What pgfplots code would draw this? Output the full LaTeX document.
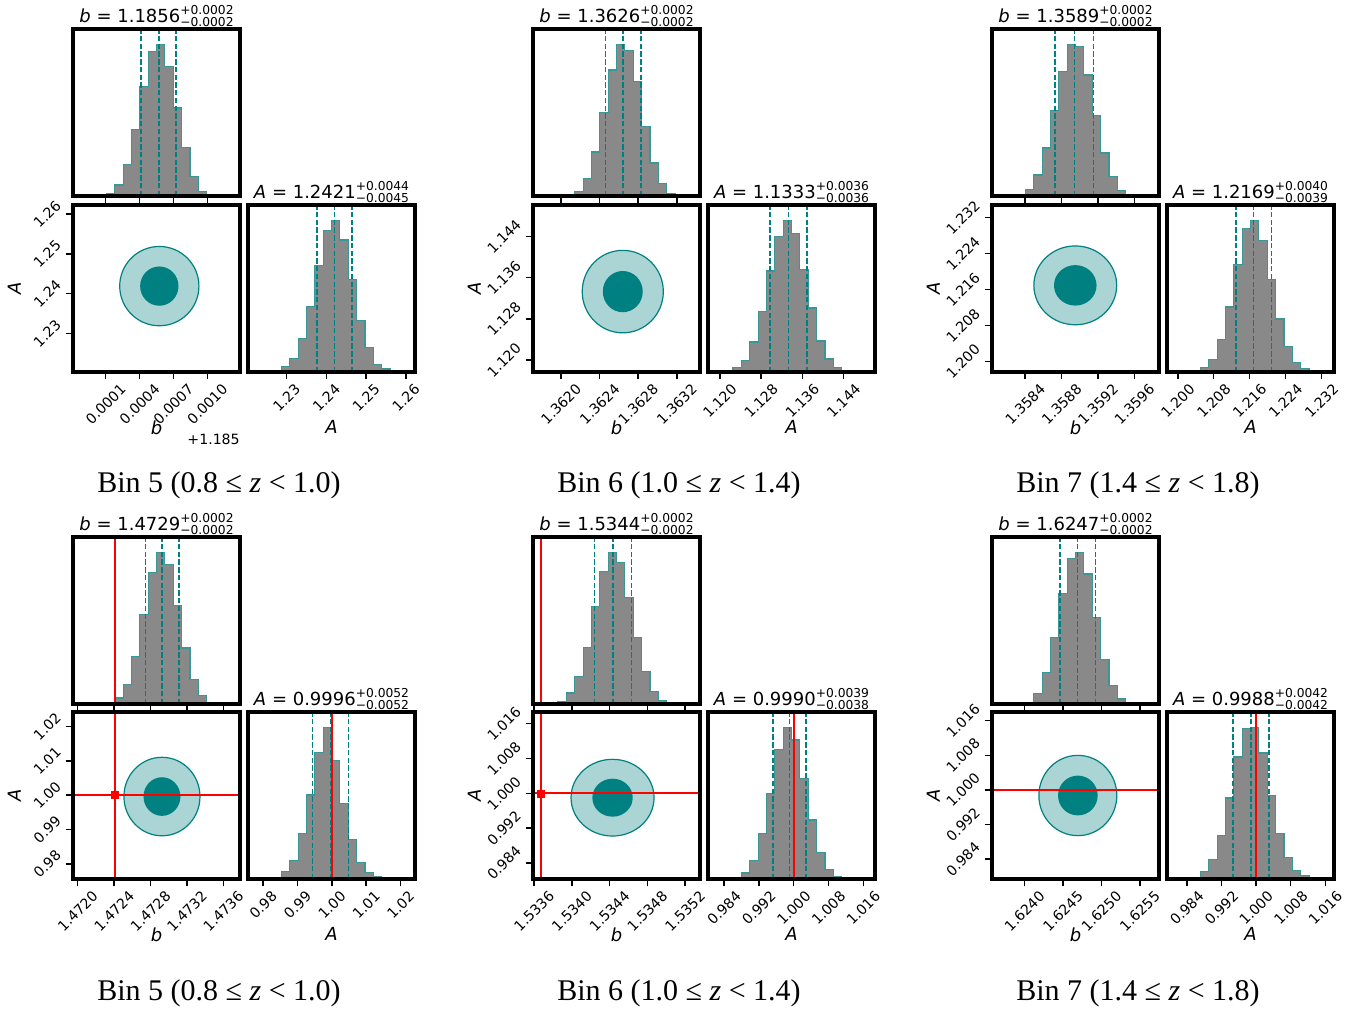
\documentclass[border=0pt]{standalone}
\usepackage{pgfplots}
\pgfplotsset{compat=1.18}
\usetikzlibrary{calc}
\usepackage{graphicx}
\usepackage{fontspec}
\setmainfont{DejaVu Sans}
\newfontfamily\capfont{Liberation Serif}

\definecolor{histgray}{RGB}{137,137,137}
\definecolor{histedge}{RGB}{60,150,150}

\newcommand\tickfont{\fontsize{10.6pt}{12pt}\selectfont}
\newcommand\labfont{\fontsize{13.5pt}{16pt}\selectfont\itshape}
\newcommand\titfont{\fontsize{13.5pt}{16pt}\selectfont}
\newcommand\supfont{\fontsize{9.2pt}{10pt}\selectfont}
% parameter = median with upper/lower errors
\newcommand\res[4]{{\itshape #1} = #2\rlap{\raisebox{5.8pt}{\supfont +#3}}\raisebox{-3pt}{\supfont −#4}}
\newcommand\rb[1]{\rotatebox{45}{#1}}
% 1 and 2 sigma contours: centre (b,A), inner radii, outer radii
\newcommand\blob[6]{%
  \filldraw[fill=teal!33, draw=teal, line width=0.9pt] let \p1=(axis direction cs:#5,#6) in (axis cs:#1,#2) ellipse [x radius=\x1, y radius=\y1];
  \fill[teal] let \p1=(axis direction cs:#3,#4) in (axis cs:#1,#2) ellipse [x radius=\x1, y radius=\y1];
}
\newcommand\bincap[2]{\node[anchor=base, font=\capfont\fontsize{22.5pt}{26pt}\selectfont] at (#1) {#2};}

\pgfplotsset{
  panel/.style={
    scale only axis, width=125.25pt, height=125.25pt, anchor=north west,
    axis on top, clip mode=individual, scaled ticks=false,
    axis line style={line width=2.4pt, line cap=rect},
    tick align=outside, xtick pos=left, ytick pos=left,
    major tick length=5.5pt,
    every tick/.style={black, line width=1.1pt},
    tick label style={font=\tickfont},
    xticklabel style={anchor=north, inner sep=0pt, yshift=-2.5pt},
    yticklabel style={anchor=east, inner sep=0pt, xshift=-2.5pt},
    every axis x label/.style={at={(axis description cs:0.5,-0.29)}, anchor=north, inner sep=0pt, font=\labfont},
    every axis y label/.style={at={(axis description cs:-0.31,0.5)}, rotate=90, anchor=south, inner sep=0pt, font=\labfont},
    every axis title/.style={at={(axis description cs:0.5,1)}, anchor=south, inner sep=0pt, yshift=1.7pt, font=\titfont},
  },
  hist/.style={panel, ymin=0, ymax=1.1, ytick=\empty},
  histo/.style={const plot, fill=histgray, draw=histedge, line width=0.9pt},
  qline/.style={color=teal, line width=1.2pt, dash pattern=on 4pt off 1.8pt},
  truth/.style={color=red, line width=1.5pt},
}

\begin{document}
\begin{tikzpicture}
\useasboundingbox (0,0) rectangle (1020pt,-757.5pt);

% ================= Bin 5 (upper) : b offset from 1.185 =================
\begin{axis}[hist, at={(54.75pt,-21.75pt)}, xmin=-0.000190, xmax=0.001290,
  xtick={0.0001,0.0004,0.0007,0.0010}, xticklabels={},
  title={\res{b}{1.1856}{0.0002}{0.0002}}]
\addplot[histo] table[row sep=\\]{x y\\
0.000032 0.005\\ 0.000106 0.013\\ 0.000180 0.073\\ 0.000254 0.209\\ 0.000328 0.440\\
0.000402 0.720\\ 0.000476 0.950\\ 0.000550 1.000\\ 0.000624 0.855\\ 0.000698 0.580\\
0.000772 0.318\\ 0.000846 0.130\\ 0.000920 0.031\\ 0.000994 0.004\\ 0.001068 0.004\\} \closedcycle;
\addplot[qline] coordinates {(0.000412,0) (0.000412,1.1)};
\addplot[qline] coordinates {(0.000572,0) (0.000572,1.1)};
\addplot[qline] coordinates {(0.000725,0) (0.000725,1.1)};
\end{axis}
\begin{axis}[panel, at={(54.75pt,-153.75pt)}, xmin=-0.000190, xmax=0.001290, ymin=1.2203, ymax=1.2623,
  xtick={0.0001,0.0004,0.0007,0.0010}, xticklabels={\rb{0.0001},\rb{0.0004},\rb{0.0007},\rb{0.0010}},
  ytick={1.23,1.24,1.25,1.26}, yticklabels={\rb{1.23},\rb{1.24},\rb{1.25},\rb{1.26}},
  xlabel={b}, ylabel={A}]
\blob{0.000575}{1.2419}{0.000170}{0.00494}{0.000351}{0.00997}
\node[anchor=north east, font=\tickfont, inner sep=0pt] at (rel axis cs:1,-0.37) {+1.185};
\end{axis}
\begin{axis}[hist, at={(186pt,-153.75pt)}, xmin=1.2203, xmax=1.2623,
  xtick={1.23,1.24,1.25,1.26}, xticklabels={\rb{1.23},\rb{1.24},\rb{1.25},\rb{1.26}},
  xlabel={A}, title={\res{A}{1.2421}{0.0044}{0.0045}}]
\addplot[histo] table[row sep=\\]{x y\\
1.2287 0.035\\ 1.2308 0.090\\ 1.2329 0.220\\ 1.2350 0.434\\ 1.2371 0.700\\ 1.2392 0.930\\
1.2413 1.000\\ 1.2434 0.870\\ 1.2455 0.607\\ 1.2476 0.340\\ 1.2497 0.160\\ 1.2518 0.052\\
1.2539 0.020\\ 1.2560 0.020\\} \closedcycle;
\addplot[qline] coordinates {(1.2376,0) (1.2376,1.1)};
\addplot[qline] coordinates {(1.2421,0) (1.2421,1.1)};
\addplot[qline] coordinates {(1.2465,0) (1.2465,1.1)};
\end{axis}

% ================= Bin 6 (upper) : b offset from 1.362 =================
\begin{axis}[hist, at={(399.75pt,-21.75pt)}, xmin=-0.000290, xmax=0.001440,
  xtick={0,0.0004,0.0008,0.0012}, xticklabels={},
  title={\res{b}{1.3626}{0.0002}{0.0002}}]
\addplot[histo] table[row sep=\\]{x y\\
0.0000560 0.009\\ 0.0001425 0.031\\ 0.0002290 0.116\\ 0.0003155 0.290\\ 0.0004020 0.550\\
0.0004885 0.830\\ 0.0005750 1.000\\ 0.0006615 0.960\\ 0.0007480 0.755\\ 0.0008345 0.460\\
0.0009210 0.218\\ 0.0010075 0.082\\ 0.0010940 0.016\\ 0.0011805 0.002\\ 0.0012670 0.002\\} \closedcycle;
\addplot[qline] coordinates {(0.000463,0) (0.000463,1.1)};
\addplot[qline] coordinates {(0.000643,0) (0.000643,1.1)};
\addplot[qline] coordinates {(0.000826,0) (0.000826,1.1)};
\end{axis}
\begin{axis}[panel, at={(399.75pt,-153.75pt)}, xmin=-0.000290, xmax=0.001440, ymin=1.1177, ymax=1.1501,
  xtick={0,0.0004,0.0008,0.0012}, xticklabels={\rb{1.3620},\rb{1.3624},\rb{1.3628},\rb{1.3632}},
  ytick={1.120,1.128,1.136,1.144}, yticklabels={\rb{1.120},\rb{1.128},\rb{1.136},\rb{1.144}},
  xlabel={b}, ylabel={A}]
\blob{0.000640}{1.1333}{0.000207}{0.0040}{0.000420}{0.0080}
\end{axis}
\begin{axis}[hist, at={(531pt,-153.75pt)}, xmin=1.1177, xmax=1.1501,
  xtick={1.120,1.128,1.136,1.144}, xticklabels={\rb{1.120},\rb{1.128},\rb{1.136},\rb{1.144}},
  xlabel={A}, title={\res{A}{1.1333}{0.0036}{0.0036}}]
\addplot[histo] table[row sep=\\]{x y\\
1.12256 0.028\\ 1.12418 0.074\\ 1.12580 0.197\\ 1.12742 0.400\\ 1.12904 0.665\\ 1.13066 0.894\\
1.13228 1.000\\ 1.13390 0.914\\ 1.13552 0.673\\ 1.13714 0.422\\ 1.13876 0.204\\ 1.14038 0.086\\
1.14200 0.031\\ 1.14362 0.031\\} \closedcycle;
\addplot[qline] coordinates {(1.1297,0) (1.1297,1.1)};
\addplot[qline] coordinates {(1.1333,0) (1.1333,1.1)};
\addplot[qline] coordinates {(1.1369,0) (1.1369,1.1)};
\end{axis}

% ================= Bin 7 (upper) : b offset from 1.358 =================
\begin{axis}[hist, at={(744pt,-21.75pt)}, xmin=0.000035, xmax=0.001870,
  xtick={0.0004,0.0008,0.0012,0.0016}, xticklabels={},
  title={\res{b}{1.3589}{0.0002}{0.0002}}]
\addplot[histo] table[row sep=\\]{x y\\
0.00031025 0.004\\ 0.00040200 0.045\\ 0.00049375 0.138\\ 0.00058550 0.316\\ 0.00067725 0.561\\
0.00076900 0.820\\ 0.00086075 1.000\\ 0.00095250 0.984\\ 0.00104425 0.797\\ 0.00113600 0.532\\
0.00122775 0.283\\ 0.00131950 0.127\\ 0.00141125 0.036\\ 0.00150300 0.009\\ 0.00159475 0.009\\} \closedcycle;
\addplot[qline] coordinates {(0.00073,0) (0.00073,1.1)};
\addplot[qline] coordinates {(0.00094,0) (0.00094,1.1)};
\addplot[qline] coordinates {(0.00115,0) (0.00115,1.1)};
\end{axis}
\begin{axis}[panel, at={(744pt,-153.75pt)}, xmin=0.000035, xmax=0.001870, ymin=1.1976, ymax=1.2348,
  xtick={0.0004,0.0008,0.0012,0.0016}, xticklabels={\rb{1.3584},\rb{1.3588},\rb{1.3592},\rb{1.3596}},
  ytick={1.200,1.208,1.216,1.224,1.232}, yticklabels={\rb{1.200},\rb{1.208},\rb{1.216},\rb{1.224},\rb{1.232}},
  xlabel={b}, ylabel={A}]
\blob{0.00095}{1.2169}{0.000234}{0.00451}{0.000455}{0.00878}
\end{axis}
\begin{axis}[hist, at={(875.25pt,-153.75pt)}, xmin=1.1976, xmax=1.2348,
  xtick={1.200,1.208,1.216,1.224,1.232}, xticklabels={\rb{1.200},\rb{1.208},\rb{1.216},\rb{1.224},\rb{1.232}},
  xlabel={A}, title={\res{A}{1.2169}{0.0040}{0.0039}}]
\addplot[histo] table[row sep=\\]{x y\\
1.20504 0.028\\ 1.20690 0.083\\ 1.20876 0.214\\ 1.21062 0.428\\ 1.21248 0.707\\ 1.21434 0.945\\
1.21620 1.000\\ 1.21806 0.865\\ 1.21992 0.611\\ 1.22178 0.349\\ 1.22364 0.166\\ 1.22550 0.061\\
1.22736 0.024\\ 1.22922 0.024\\} \closedcycle;
\addplot[qline] coordinates {(1.2130,0) (1.2130,1.1)};
\addplot[qline] coordinates {(1.2169,0) (1.2169,1.1)};
\addplot[qline] coordinates {(1.2209,0) (1.2209,1.1)};
\end{axis}

% ================= Bin 5 (lower) : b offset from 1.472, truth A = 1 =================
\begin{axis}[hist, at={(54.75pt,-402.75pt)}, xmin=-0.000052, xmax=0.001784,
  xtick={0,0.0004,0.0008,0.0012,0.0016}, xticklabels={},
  title={\res{b}{1.4729}{0.0002}{0.0002}}]
\addplot[histo] table[row sep=\\]{x y\\
0.0003152 0.004\\ 0.0004070 0.040\\ 0.0004988 0.128\\ 0.0005906 0.311\\ 0.0006824 0.587\\
0.0007742 0.868\\ 0.0008660 1.000\\ 0.0009578 0.918\\ 0.0010496 0.647\\ 0.0011414 0.369\\
0.0012332 0.161\\ 0.0013250 0.057\\ 0.0014168 0.009\\ 0.0015086 0.009\\} \closedcycle;
\addplot[qline] coordinates {(0.000743,0) (0.000743,1.1)};
\addplot[qline] coordinates {(0.000926,0) (0.000926,1.1)};
\addplot[qline] coordinates {(0.001113,0) (0.001113,1.1)};
\addplot[truth] coordinates {(0.000407,0) (0.000407,1.1)};
\end{axis}
\begin{axis}[panel, at={(54.75pt,-534pt)}, xmin=-0.000052, xmax=0.001784, ymin=0.9756, ymax=1.0242,
  xtick={0,0.0004,0.0008,0.0012,0.0016}, xticklabels={\rb{1.4720},\rb{1.4724},\rb{1.4728},\rb{1.4732},\rb{1.4736}},
  ytick={0.98,0.99,1.00,1.01,1.02}, yticklabels={\rb{0.98},\rb{0.99},\rb{1.00},\rb{1.01},\rb{1.02}},
  xlabel={b}, ylabel={A}]
\blob{0.000926}{0.9996}{0.000203}{0.00562}{0.000418}{0.01142}
\addplot[truth] coordinates {(0.000407,0.9756) (0.000407,1.0242)};
\addplot[truth] coordinates {(-0.000052,1.0) (0.001784,1.0)};
\addplot[only marks, mark=square*, color=red, mark size=2.6pt] coordinates {(0.000407,1.0)};
\end{axis}
\begin{axis}[hist, at={(186pt,-534pt)}, xmin=0.9756, xmax=1.0242,
  xtick={0.98,0.99,1.00,1.01,1.02}, xticklabels={\rb{0.98},\rb{0.99},\rb{1.00},\rb{1.01},\rb{1.02}},
  xlabel={A}, title={\res{A}{0.9996}{0.0052}{0.0052}}]
\addplot[histo] table[row sep=\\]{x y\\
0.98289 0.011\\ 0.98532 0.048\\ 0.98775 0.123\\ 0.99018 0.302\\ 0.99261 0.554\\ 0.99504 0.834\\
0.99747 1.000\\ 0.99990 0.779\\ 1.00233 0.499\\ 1.00476 0.258\\ 1.00719 0.109\\ 1.00962 0.044\\
1.01205 0.013\\ 1.01448 0.013\\} \closedcycle;
\addplot[qline] coordinates {(0.9944,0) (0.9944,1.1)};
\addplot[qline] coordinates {(0.9996,0) (0.9996,1.1)};
\addplot[qline] coordinates {(1.0048,0) (1.0048,1.1)};
\addplot[truth] coordinates {(1.0,0) (1.0,1.1)};
\end{axis}

% ================= Bin 6 (lower) : b offset from 1.5336 =================
\begin{axis}[hist, at={(399.75pt,-402.75pt)}, xmin=-0.000011, xmax=0.001759,
  xtick={0,0.0004,0.0008,0.0012,0.0016}, xticklabels={},
  title={\res{b}{1.5344}{0.0002}{0.0002}}]
\addplot[histo] table[row sep=\\]{x y\\
0.0001660 0.002\\ 0.0002545 0.013\\ 0.0003430 0.073\\ 0.0004315 0.183\\ 0.0005200 0.371\\
0.0006085 0.640\\ 0.0006970 0.874\\ 0.0007855 1.000\\ 0.0008740 0.930\\ 0.0009625 0.702\\
0.0010510 0.437\\ 0.0011395 0.212\\ 0.0012280 0.084\\ 0.0013165 0.022\\ 0.0014050 0.004\\
0.0014935 0.004\\} \closedcycle;
\addplot[qline] coordinates {(0.000639,0) (0.000639,1.1)};
\addplot[qline] coordinates {(0.000837,0) (0.000837,1.1)};
\addplot[qline] coordinates {(0.001031,0) (0.001031,1.1)};
\addplot[truth] coordinates {(0.0000742,0) (0.0000742,1.1)};
\end{axis}
\begin{axis}[panel, at={(399.75pt,-534pt)}, xmin=-0.000011, xmax=0.001759, ymin=0.9803, ymax=1.0187,
  xtick={0,0.0004,0.0008,0.0012,0.0016}, xticklabels={\rb{1.5336},\rb{1.5340},\rb{1.5344},\rb{1.5348},\rb{1.5352}},
  ytick={0.984,0.992,1.000,1.008,1.016}, yticklabels={\rb{0.984},\rb{0.992},\rb{1.000},\rb{1.008},\rb{1.016}},
  xlabel={b}, ylabel={A}]
\blob{0.000832}{0.9990}{0.000214}{0.00437}{0.000440}{0.00882}
\addplot[truth] coordinates {(0.0000742,0.9803) (0.0000742,1.0187)};
\addplot[truth] coordinates {(-0.000011,1.0) (0.001759,1.0)};
\addplot[only marks, mark=square*, color=red, mark size=2.6pt] coordinates {(0.0000742,1.0)};
\end{axis}
\begin{axis}[hist, at={(531pt,-534pt)}, xmin=0.9803, xmax=1.0187,
  xtick={0.984,0.992,1.000,1.008,1.016}, xticklabels={\rb{0.984},\rb{0.992},\rb{1.000},\rb{1.008},\rb{1.016}},
  xlabel={A}, title={\res{A}{0.9990}{0.0039}{0.0038}}]
\addplot[histo] table[row sep=\\]{x y\\
0.98606 0.006\\ 0.98798 0.040\\ 0.98990 0.120\\ 0.99182 0.302\\ 0.99374 0.565\\ 0.99566 0.853\\
0.99758 1.000\\ 0.99950 0.915\\ 1.00142 0.663\\ 1.00334 0.389\\ 1.00526 0.175\\ 1.00718 0.061\\
1.00910 0.018\\ 1.01102 0.018\\} \closedcycle;
\addplot[qline] coordinates {(0.9952,0) (0.9952,1.1)};
\addplot[qline] coordinates {(0.9990,0) (0.9990,1.1)};
\addplot[qline] coordinates {(1.0029,0) (1.0029,1.1)};
\addplot[truth] coordinates {(1.0,0) (1.0,1.1)};
\end{axis}

% ================= Bin 7 (lower) : b offset from 1.624 =================
\begin{axis}[hist, at={(744pt,-402.75pt)}, xmin=-0.000423, xmax=0.001750,
  xtick={0,0.0005,0.0010,0.0015}, xticklabels={},
  title={\res{b}{1.6247}{0.0002}{0.0002}}]
\addplot[histo] table[row sep=\\]{x y\\
0.00001160 0.009\\ 0.00012025 0.071\\ 0.00022890 0.206\\ 0.00033755 0.437\\ 0.00044620 0.727\\
0.00055485 0.958\\ 0.00066350 1.000\\ 0.00077215 0.856\\ 0.00088080 0.572\\ 0.00098945 0.295\\
0.00109810 0.122\\ 0.00120675 0.033\\ 0.00131540 0.004\\ 0.00142405 0.004\\} \closedcycle;
\addplot[qline] coordinates {(0.000463,0) (0.000463,1.1)};
\addplot[qline] coordinates {(0.000690,0) (0.000690,1.1)};
\addplot[qline] coordinates {(0.000922,0) (0.000922,1.1)};
\end{axis}
\begin{axis}[panel, at={(744pt,-534pt)}, xmin=-0.000423, xmax=0.001750, ymin=0.9794, ymax=1.0180,
  xtick={0,0.0005,0.0010,0.0015}, xticklabels={\rb{1.6240},\rb{1.6245},\rb{1.6250},\rb{1.6255}},
  ytick={0.984,0.992,1.000,1.008,1.016}, yticklabels={\rb{0.984},\rb{0.992},\rb{1.000},\rb{1.008},\rb{1.016}},
  xlabel={b}, ylabel={A}]
\blob{0.000694}{0.9987}{0.000258}{0.0046}{0.000507}{0.00928}
\addplot[truth] coordinates {(-0.000423,1.0) (0.001750,1.0)};
\end{axis}
\begin{axis}[hist, at={(875.25pt,-534pt)}, xmin=0.9794, xmax=1.0180,
  xtick={0.984,0.992,1.000,1.008,1.016}, xticklabels={\rb{0.984},\rb{0.992},\rb{1.000},\rb{1.008},\rb{1.016}},
  xlabel={A}, title={\res{A}{0.9988}{0.0042}{0.0042}}]
\addplot[histo] table[row sep=\\]{x y\\
0.98519 0.007\\ 0.98712 0.048\\ 0.98905 0.129\\ 0.99098 0.288\\ 0.99291 0.533\\ 0.99484 0.803\\
0.99677 0.993\\ 0.99870 1.000\\ 1.00063 0.830\\ 1.00256 0.550\\ 1.00449 0.301\\ 1.00642 0.142\\
1.00835 0.055\\ 1.01028 0.022\\ 1.01221 0.022\\} \closedcycle;
\addplot[qline] coordinates {(0.9946,0) (0.9946,1.1)};
\addplot[qline] coordinates {(0.9988,0) (0.9988,1.1)};
\addplot[qline] coordinates {(1.0030,0) (1.0030,1.1)};
\addplot[truth] coordinates {(1.0,0) (1.0,1.1)};
\end{axis}

% captions
\bincap{164.25pt,-369pt}{Bin 5 (0.8 ≤ \textit{z} < 1.0)}
\bincap{509.25pt,-369pt}{Bin 6 (1.0 ≤ \textit{z} < 1.4)}
\bincap{853.5pt,-369pt}{Bin 7 (1.4 ≤ \textit{z} < 1.8)}
\bincap{164.25pt,-750pt}{Bin 5 (0.8 ≤ \textit{z} < 1.0)}
\bincap{509.25pt,-750pt}{Bin 6 (1.0 ≤ \textit{z} < 1.4)}
\bincap{853.5pt,-750pt}{Bin 7 (1.4 ≤ \textit{z} < 1.8)}
\end{tikzpicture}
\end{document}
